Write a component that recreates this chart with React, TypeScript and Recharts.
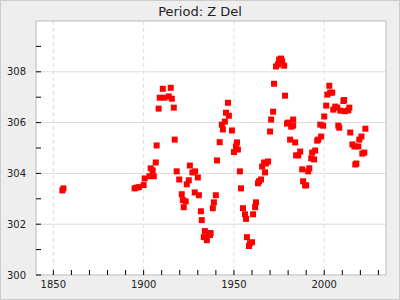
import { ScatterChart, Scatter, XAxis, YAxis, CartesianGrid, ReferenceArea } from 'recharts';

const title = 'Period: Z Del';

const years = [
  1855.0, 1855.6, 1895.0, 1896.0, 1897.4, 1900.0, 1900.6, 1903.2, 1905.6, 1903.9,
  1905.0, 1906.7, 1907.2, 1908.3, 1908.9, 1910.6, 1911.5, 1913.9, 1915.0, 1915.6,
  1916.7, 1917.2, 1918.3, 1919.7, 1921.1, 1921.7, 1922.2, 1923.3, 1923.9, 1925.0,
  1925.6, 1927.0, 1928.5, 1928.3, 1930.0, 1930.6, 1931.7, 1932.2, 1933.3, 1933.9,
  1935.0, 1936.1, 1936.7, 1937.1, 1938.3, 1938.9, 1940.0, 1940.6, 1942.1, 1943.3,
  1943.9, 1945.0, 1945.6, 1946.7, 1947.2, 1948.9, 1950.0, 1951.1, 1951.7, 1952.2,
  1953.3, 1953.9, 1955.0, 1956.1, 1956.7, 1957.2, 1958.3, 1958.9, 1960.0, 1960.6,
  1961.7, 1962.2, 1963.3, 1963.9, 1965.0, 1965.6, 1966.7, 1967.2, 1967.8, 1968.9,
  1970.0, 1970.6, 1971.7, 1972.2, 1973.3, 1974.4, 1975.0, 1976.1, 1976.7, 1977.8,
  1978.3, 1979.4, 1980.0, 1981.1, 1981.7, 1982.8, 1982.8, 1983.9, 1984.4, 1985.6,
  1986.7, 1987.8, 1988.3, 1989.4, 1990.0, 1991.1, 1991.7, 1992.8, 1993.3, 1994.4,
  1995.0, 1996.1, 1996.7, 1997.8, 1998.3, 1999.4, 2000.0, 2001.1, 2001.7, 2002.8,
  2003.3, 2004.4, 2005.0, 2006.1, 2007.2, 2007.8, 2008.3, 2008.9, 2010.6, 2011.0,
  2011.5, 2013.3, 2013.9, 2014.4, 2015.6, 2016.7, 2017.2, 2017.8, 2018.9, 2019.4,
  2020.6, 2021.1, 2022.2, 2022.8,
];

const periods = [
  303.33, 303.41, 303.41, 303.44, 303.46, 303.54, 303.80, 303.89, 303.89, 304.20,
  304.12, 304.43, 305.10, 306.55, 306.98, 307.33, 306.98, 307.03, 307.37, 306.94,
  306.59, 305.33, 304.08, 303.76, 303.18, 302.95, 302.67, 302.90, 303.57, 303.73,
  304.31, 304.04, 304.08, 303.25, 303.84, 303.14, 302.51, 302.16, 301.49, 301.73,
  301.37, 301.65, 301.57, 301.65, 302.63, 302.86, 303.14, 304.51, 305.23, 305.92,
  305.73, 306.04, 306.39, 306.78, 306.27, 305.69, 304.84, 305.06, 305.22, 304.94,
  304.08, 303.41, 302.63, 302.39, 302.21, 301.49, 301.14, 301.25, 301.29, 302.39,
  302.67, 302.86, 303.61, 303.69, 303.76, 304.27, 304.43, 304.04, 304.39, 304.47,
  305.65, 306.12, 306.43, 307.53, 308.21, 308.29, 308.48, 308.52, 308.42, 308.24,
  307.06, 305.96, 306.00, 305.33, 305.84, 305.88, 306.12, 305.22, 304.71, 304.71,
  304.86, 304.16, 303.69, 303.53, 303.53, 304.08, 304.20, 304.59, 304.82, 304.55,
  304.90, 305.29, 305.33, 305.92, 305.45, 305.88, 306.24, 306.67, 307.10, 307.45,
  307.18, 307.18, 306.51, 306.63, 306.59, 305.88, 305.80, 306.47, 306.85, 306.89,
  306.45, 306.48, 306.59, 305.61, 305.14, 305.06, 304.35, 304.39, 305.06, 305.33,
  305.45, 304.78, 304.82, 305.76,
];

const xTicks = [1850, 1860, 1870, 1880, 1890, 1900, 1910, 1920, 1930, 1940, 1950, 1960, 1970, 1980, 1990, 2000, 2010, 2020, 2030];
const xLabels = [1850, 1900, 1950, 2000];
const yTicks = [300, 301, 302, 303, 304, 305, 306, 307, 308, 309];
const yLabels = [300, 302, 304, 306, 308];
const xDomain = [1840.4, 2034.2];
const yDomain = [300, 310];

const data = years.map((y, i) => ({ year: y, period: periods[i] }));

const font = '"DejaVu Sans", sans-serif';

function XTick(p: any) {
  const { x, y, payload } = p;
  return <g>
    <line x1={x} y1={y} x2={x} y2={y - 5} stroke="#000" />
    {xLabels.includes(payload.value) && <text x={x} y={y + 12.5} textAnchor="middle" fontSize={10} fontFamily={font} fill="#222">{payload.value}</text>}
  </g>
}

function YTick(p: any) {
  const { x, y, payload } = p;
  return <g>
    <line x1={x} y1={y} x2={x + 5} y2={y} stroke="#000" />
    {yLabels.includes(payload.value) && <text x={x - 10} y={y + 3.6} textAnchor="end" fontSize={10} fontFamily={font} fill="#222">{payload.value}</text>}
  </g>
}

const Square = (p: any) => <rect x={p.cx - 3} y={p.cy - 3} width={6} height={6} fill="#ff0000" />

export default function App() {
  return <div style={{ position: 'absolute', left: 0, top: 0, width: 400, height: 300, background: '#eeeeee', boxSizing: 'border-box', border: '1px solid #cccccc' }}>
    <div style={{ position: 'absolute', left: -1, top: 4, width: 400, textAlign: 'center', fontFamily: font, fontSize: 13, lineHeight: '13px', color: '#222' }}>{title}</div>
    <ScatterChart width={400} height={300} margin={{ top: 21, right: 14, bottom: 0, left: 0 }} style={{ position: 'absolute', left: -1, top: -1 }}>
      <CartesianGrid fill="#fff" fillOpacity={1} vertical={false} horizontalValues={[302, 304, 306, 308]} stroke="#dddddd" />
      <CartesianGrid horizontal={false} verticalValues={xLabels} stroke="#dddddd" strokeDasharray="4 3" />
      <XAxis type="number" dataKey="year" domain={xDomain} allowDataOverflow ticks={xTicks} interval={0}
        tickSize={0} tickMargin={0} axisLine={false} tickLine={false} height={25} tick={XTick} />
      <YAxis type="number" dataKey="period" domain={yDomain} allowDataOverflow ticks={yTicks} interval={0}
        tickSize={0} tickMargin={0} axisLine={false} tickLine={false} width={36} tick={YTick} />
      <ReferenceArea x1={xDomain[0]} x2={xDomain[1]} y1={yDomain[0]} y2={yDomain[1]} fill="none" stroke="#bbbbbb" />
      <Scatter data={data} shape={Square} isAnimationActive={false} />
    </ScatterChart>
  </div>
}
